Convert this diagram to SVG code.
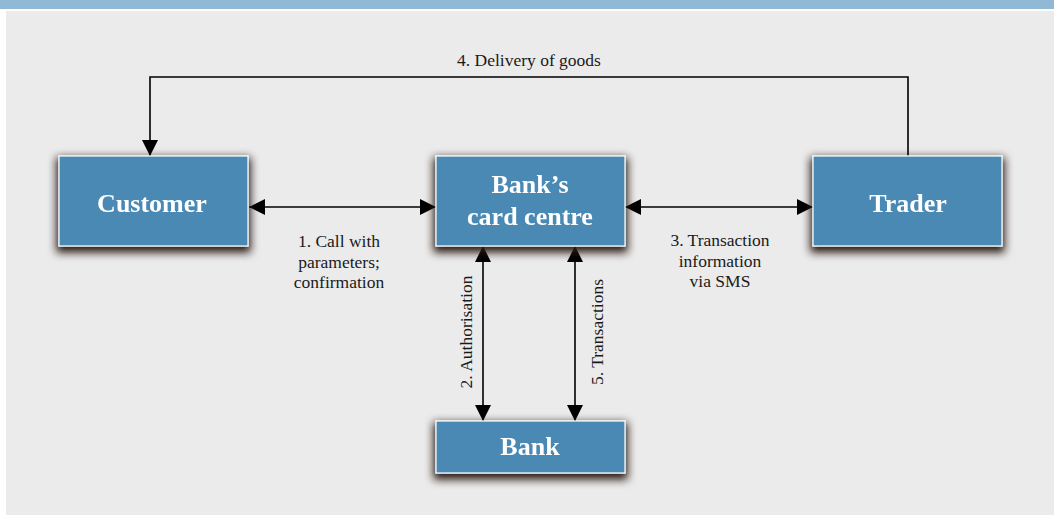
<svg xmlns="http://www.w3.org/2000/svg" width="1054" height="515" viewBox="0 0 1054 515">
<style>
.box{fill:#4889b4;stroke:#ffffff;stroke-width:1.2}
.nt{font-family:"Liberation Serif","Times New Roman",serif;font-weight:bold;font-size:26px;fill:#ffffff;text-anchor:middle}
.lb{font-family:"Liberation Serif","Times New Roman",serif;font-size:17.5px;fill:#1a1a1a;text-anchor:middle}
.ln{stroke:#000;stroke-width:1.6;fill:none}
</style>
<defs>
<filter id="sh" x="-20%" y="-30%" width="140%" height="170%">
<feMorphology in="SourceAlpha" operator="dilate" radius="2" result="d"/>
<feGaussianBlur in="d" stdDeviation="4.5"/>
<feOffset dx="0" dy="4" result="b"/>
<feFlood flood-color="#2a1a14" flood-opacity="1"/>
<feComposite in2="b" operator="in" result="s"/>
<feMerge><feMergeNode in="s"/><feMergeNode in="SourceGraphic"/></feMerge>
</filter>
<marker id="ah" viewBox="0 0 16 16" refX="16" refY="8" markerWidth="16" markerHeight="16" markerUnits="userSpaceOnUse" orient="auto-start-reverse">
<path d="M0,0 L16,8 L0,16 Z" fill="#000"/>
</marker>
</defs>
<rect x="0" y="0" width="1054" height="515" fill="#ffffff"/>
<rect x="6" y="11" width="1048" height="504" fill="#ebebeb"/>
<rect x="0" y="0" width="1054" height="9" fill="#8fb9d4"/>

<g id="connectors">
<polyline class="ln" points="908,156 908,77 150,77 150,156" marker-end="url(#ah)"/>
<line class="ln" x1="249" y1="207" x2="436" y2="207" marker-start="url(#ah)" marker-end="url(#ah)"/>
<line class="ln" x1="625" y1="207" x2="813" y2="207" marker-start="url(#ah)" marker-end="url(#ah)"/>
<line class="ln" x1="483" y1="246" x2="483" y2="421" marker-start="url(#ah)" marker-end="url(#ah)"/>
<line class="ln" x1="575" y1="246" x2="575" y2="421" marker-start="url(#ah)" marker-end="url(#ah)"/>
<text class="lb" x="529" y="66">4. Delivery of goods</text>
<text class="lb" x="339" y="247">1. Call with</text>
<text class="lb" x="339" y="268">parameters;</text>
<text class="lb" x="339" y="288">confirmation</text>
<text class="lb" x="720" y="246">3. Transaction</text>
<text class="lb" x="720" y="267">information</text>
<text class="lb" x="720" y="287">via SMS</text>
<text class="lb" transform="translate(472,332) rotate(-90)">2. Authorisation</text>
<text class="lb" transform="translate(603,332) rotate(-90)">5. Transactions</text>
</g>

<g id="customer" filter="url(#sh)">
<rect class="box" x="59" y="156" width="189" height="90"/>
<text class="nt" x="152" y="212">Customer</text>
</g>
<g id="card-centre" filter="url(#sh)">
<rect class="box" x="436" y="156" width="189" height="90"/>
<text class="nt" x="530" y="193">Bank’s</text>
<text class="nt" x="530" y="225">card centre</text>
</g>
<g id="trader" filter="url(#sh)">
<rect class="box" x="813" y="156" width="189" height="90"/>
<text class="nt" x="908" y="212">Trader</text>
</g>
<g id="bank" filter="url(#sh)">
<rect class="box" x="436" y="421" width="189" height="52"/>
<text class="nt" x="530" y="455">Bank</text>
</g>
</svg>
